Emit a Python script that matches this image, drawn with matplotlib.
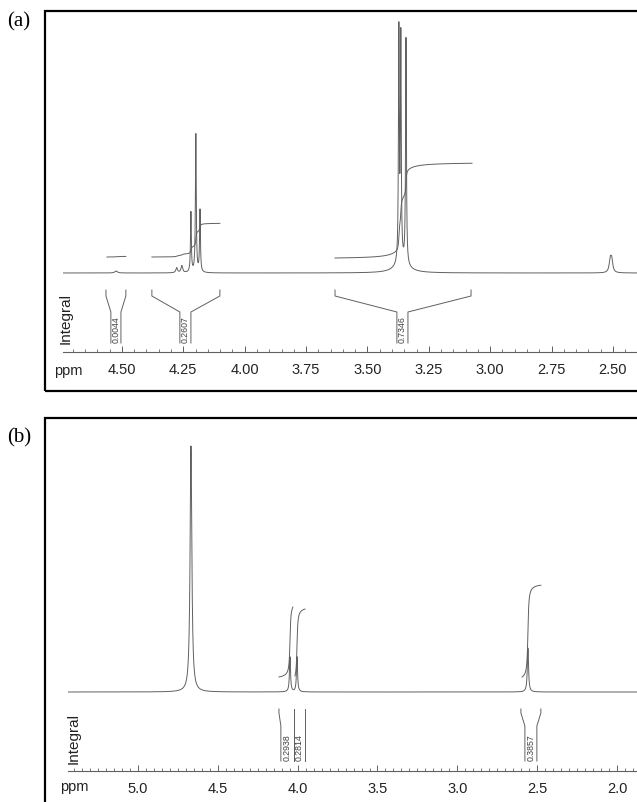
import numpy as np
import matplotlib.pyplot as plt
from matplotlib.patches import Rectangle
from matplotlib.ticker import MultipleLocator, FormatStrFormatter

plt.rcParams['font.family'] = ['Liberation Sans', 'DejaVu Sans']

# ---- panel (a) peaks (ppm, height above baseline, half width)
a_ppm = [4.524, 4.277, 4.256, 4.219, 4.199, 4.182, 3.372, 3.364, 3.343, 3.360, 2.511, 2.505]
a_height = [2, 5, 7, 60, 138, 62, 230, 222, 226, 8, 12, 12]
a_width = [0.006, 0.004, 0.004, 0.002, 0.002, 0.002, 0.002, 0.002, 0.002, 0.035, 0.005, 0.005]
# integral regions (start ppm, end ppm), values
a_int_range = [(4.561, 4.484), (4.378, 4.101), (3.632, 3.074)]
a_int_value = [0.0044, 0.2607, 0.7346]
a_br_outer = [(4.565, 4.484), (4.378, 4.101), (3.632, 3.078)]
a_br_inner = [(4.545, 4.504), (4.264, 4.219), (3.380, 3.335)]

# ---- panel (b)
b_ppm = [4.668, 4.048, 4.004, 2.558]
b_height = [246, 35, 35, 44]
b_width = [0.0065, 0.004, 0.004, 0.0045]
b_int_range = [(4.117, 4.030), (4.017, 3.954), (2.595, 2.477)]
b_int_value = [0.2938, 0.2814, 0.3857]
b_br_outer = [(4.117, 4.023), (4.023, 3.954), (2.602, 2.477)]
b_br_inner = [(4.105, 4.023), (4.023, 3.954), (2.577, 2.502)]

W, H = 637, 803
fig = plt.figure(figsize=(W / 100, H / 100), dpi=100)
GRAY = '#606060'


def px_axes(x0, y0, x1, y1):
    return fig.add_axes([x0 / W, 1 - y1 / H, (x1 - x0) / W, (y1 - y0) / H])


def spectrum(x, pos, hgt, wid):
    y = np.zeros_like(x)
    for p, h, w in zip(pos, hgt, wid):
        y += h / (1 + ((x - p) / w) ** 2)
    return y


def panel(box, xlim, top, pos, hgt, wid, rng, vals, outer, inner, scale,
          int_base, br_y, major, fmt, label_xy, integ_xy, ppm_x):
    ax = px_axes(*box)
    ax.set_xlim(*xlim)
    ax.set_ylim(0, top)
    base = 79
    x = np.linspace(xlim[0], xlim[1], 30000)
    y = spectrum(x, pos, hgt, wid)
    ax.plot(x, base + y, color=GRAY, lw=0.7)

    # integral curves
    for (p0, p1), v, b0 in zip(rng, vals, int_base):
        m = (x <= p0) & (x >= p1)
        c = np.cumsum(y[m])
        c = c / c[-1] if c[-1] > 0 else c
        ax.plot(x[m], b0 + c * v * scale, color=GRAY, lw=0.7)

    # integral brackets
    t, k1, k2, bt = br_y
    for (o0, o1), (i0, i1), v in zip(outer, inner, vals):
        ax.plot([o0, o0, i0, i0], [t, k1, k2, bt], color=GRAY, lw=0.7)
        ax.plot([o1, o1, i1, i1], [t, k1, k2, bt], color=GRAY, lw=0.7)
        ax.text((i0 + i1) / 2, bt + 1, '%.4f' % v, rotation=90, ha='center',
                va='bottom', fontsize=6.3, color='#404040')

    for s in ['top', 'left', 'right']:
        ax.spines[s].set_visible(False)
    ax.spines['bottom'].set_color(GRAY)
    ax.spines['bottom'].set_linewidth(0.8)
    ax.set_yticks([])
    ax.xaxis.set_major_locator(MultipleLocator(major))
    ax.xaxis.set_minor_locator(MultipleLocator(0.05))
    ax.xaxis.set_major_formatter(FormatStrFormatter(fmt))
    ax.tick_params(axis='x', which='major', direction='in', length=4.5,
                   width=0.7, color=GRAY, pad=7, labelsize=10.5,
                   labelcolor='#222222')
    ax.tick_params(axis='x', which='minor', direction='in', length=2.2,
                   width=0.6, color=GRAY)
    ax.patch.set_alpha(0)

    fig.text(ppm_x / W, 1 - label_xy / H, 'ppm', ha='left', va='baseline',
             fontsize=10.5, color='#222222')
    fig.text(integ_xy[0] / W, 1 - integ_xy[1] / H, 'Integral', rotation=90,
             ha='center', va='center', fontsize=11, color='#222222')
    return ax


# frames
fig.patches.append(Rectangle((45 / W, 1 - 392 / H), 620 / W, 380 / H,
                             transform=fig.transFigure, fill=False,
                             lw=1.6, ec='black'))
fig.patches.append(Rectangle((45 / W, 1 - 830 / H), 620 / W, 411 / H,
                             transform=fig.transFigure, fill=False,
                             lw=1.6, ec='black'))

panel((63, 12, 637, 353), (4.740, 2.402), 341, a_ppm, a_height, a_width,
      a_int_range, a_int_value, a_br_outer, a_br_inner, 129,
      [95, 95, 94], (62, 56, 40, 9), 0.25, '%.2f', 375, (66, 319), 54)
panel((68, 419, 637, 772), (5.438, 1.875), 353, b_ppm, b_height, b_width,
      b_int_range, b_int_value, b_br_outer, b_br_inner, 238,
      [94, 95, 94], (62, 58, 45, 10), 0.5, '%.1f', 791, (74, 739), 60)

fig.text(7 / W, 1 - 22 / H, '(a)', family='Liberation Serif', fontsize=15,
         ha='left', va='center')
fig.text(7 / W, 1 - 438 / H, '(b)', family='Liberation Serif', fontsize=15,
         ha='left', va='center')

fig.savefig('out.png', dpi=100)
